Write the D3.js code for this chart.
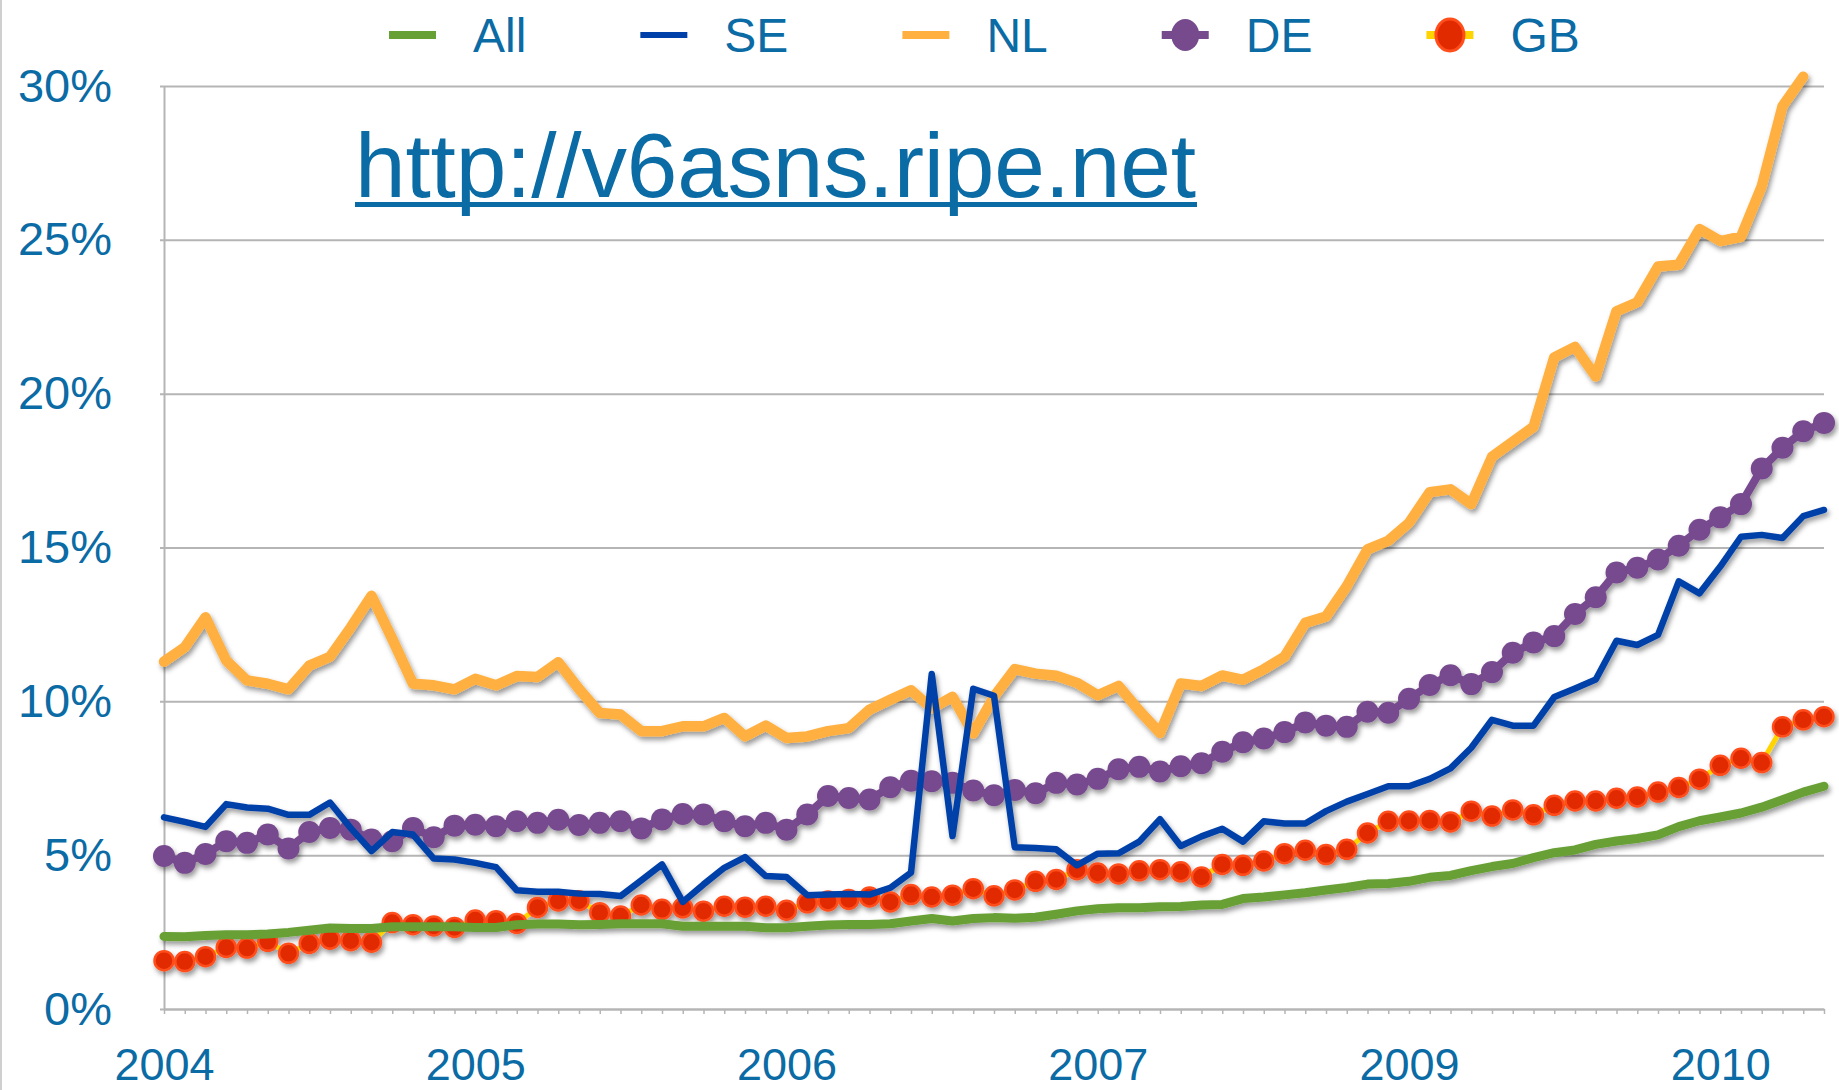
<!DOCTYPE html>
<html>
<head>
<meta charset="utf-8">
<script src="https://cdn.jsdelivr.net/npm/d3@7"></script>
<style>
body { margin: 0; background: #fff; }
svg text { font-family: "Liberation Sans", Arial, Helvetica, sans-serif; }
</style>
</head>
<body>
<svg id="chart" width="1839" height="1090"></svg>
<script>
// share of ASNs announcing IPv6 (%), one value per sample
const allData = [2.36, 2.35, 2.39, 2.41, 2.41, 2.44, 2.49, 2.56, 2.63, 2.62, 2.62, 2.67, 2.67, 2.67, 2.67, 2.65, 2.65, 2.74, 2.76, 2.76, 2.74,
    2.75, 2.77, 2.77, 2.77, 2.69, 2.69, 2.69, 2.69, 2.64, 2.64, 2.69, 2.73, 2.75, 2.75, 2.77, 2.86, 2.94, 2.86, 2.94, 2.97,
    2.95, 2.98, 3.08, 3.19, 3.26, 3.29, 3.29, 3.32, 3.33, 3.38, 3.40, 3.59, 3.64, 3.71, 3.78, 3.87, 3.95, 4.06, 4.08, 4.15, 4.28,
    4.34, 4.50, 4.63, 4.73, 4.92, 5.08, 5.17, 5.35, 5.46, 5.54, 5.66, 5.93, 6.12, 6.24, 6.37, 6.56, 6.80, 7.05, 7.24];

const seData = [6.23, 6.08, 5.92, 6.66, 6.55, 6.51, 6.31, 6.31, 6.71, 5.88, 5.13, 5.75, 5.67, 4.89, 4.86, 4.75, 4.61, 3.86, 3.81, 3.81, 3.75,
    3.74, 3.67, 4.18, 4.70, 3.48, 4.05, 4.59, 4.94, 4.32, 4.29, 3.70, 3.72, 3.74, 3.72, 3.94, 4.43, 10.89, 5.62, 10.41, 10.18,
    5.26, 5.23, 5.19, 4.67, 5.05, 5.06, 5.44, 6.17, 5.30, 5.61, 5.86, 5.44, 6.10, 6.03, 6.03, 6.43, 6.74, 6.99, 7.24, 7.24, 7.48,
    7.82, 8.49, 9.40, 9.21, 9.21, 10.14, 10.42, 10.71, 11.97, 11.83, 12.16, 13.90, 13.51, 14.38, 15.35, 15.41, 15.31, 16.02, 16.22];

const nlData = [11.29, 11.76, 12.73, 11.33, 10.68, 10.57, 10.39, 11.16, 11.45, 12.40, 13.43, 12.03, 10.57, 10.52, 10.39, 10.73, 10.52, 10.82, 10.79, 11.27, 10.40,
    9.62, 9.57, 9.03, 9.03, 9.19, 9.19, 9.46, 8.86, 9.21, 8.81, 8.86, 9.03, 9.13, 9.73, 10.05, 10.36, 9.77, 10.15, 8.96, 10.15,
    11.05, 10.90, 10.83, 10.60, 10.20, 10.50, 9.70, 8.97, 10.58, 10.50, 10.84, 10.70, 11.04, 11.45, 12.55, 12.76, 13.74, 14.94, 15.22, 15.80, 16.80,
    16.89, 16.41, 17.95, 18.44, 18.92, 21.18, 21.52, 20.56, 22.68, 22.97, 24.13, 24.19, 25.35, 24.96, 25.10, 26.74, 29.34, 30.30];

const deData = [4.97, 4.75, 5.04, 5.45, 5.40, 5.67, 5.22, 5.75, 5.88, 5.83, 5.51, 5.45, 5.88, 5.58, 5.96, 5.99, 5.94, 6.10, 6.05, 6.15, 5.98,
    6.05, 6.10, 5.87, 6.16, 6.34, 6.32, 6.10, 5.94, 6.05, 5.83, 6.32, 6.92, 6.86, 6.81, 7.21, 7.42, 7.40, 7.35, 7.10, 6.95,
    7.12, 7.01, 7.35, 7.30, 7.48, 7.79, 7.87, 7.72, 7.89, 7.99, 8.36, 8.67, 8.79, 9.00, 9.31, 9.21, 9.17, 9.66, 9.63, 10.08, 10.53,
    10.85, 10.56, 10.95, 11.58, 11.91, 12.12, 12.84, 13.38, 14.19, 14.34, 14.61, 15.06, 15.58, 15.98, 16.41, 17.57, 18.24, 18.78, 19.05];

const gbData = [1.57, 1.54, 1.70, 2.00, 1.98, 2.20, 1.81, 2.13, 2.27, 2.22, 2.17, 2.81, 2.74, 2.70, 2.65, 2.89, 2.87, 2.78, 3.30, 3.51, 3.52,
    3.13, 3.02, 3.38, 3.24, 3.29, 3.18, 3.34, 3.31, 3.34, 3.21, 3.45, 3.51, 3.56, 3.64, 3.48, 3.72, 3.64, 3.70, 3.91, 3.68,
    3.87, 4.15, 4.21, 4.53, 4.42, 4.39, 4.49, 4.53, 4.46, 4.29, 4.70, 4.67, 4.81, 5.05, 5.16, 5.02, 5.19, 5.72, 6.10, 6.11, 6.13,
    6.08, 6.43, 6.27, 6.47, 6.31, 6.62, 6.76, 6.76, 6.85, 6.89, 7.05, 7.20, 7.47, 7.92, 8.15, 8.01, 9.17, 9.40, 9.50];

const seriesNames = ["All", "SE", "NL", "DE", "GB"];
const yTicks = [0, 5, 10, 15, 20, 25, 30];
const xLabels = ["2004", "2005", "2006", "2007", "2009", "2010"];
const labelStep = 15;   // one year label every 15 samples

const W = 1839, H = 1090;
const plotLeft = 164, plotRight = 1824, plotTop = 86, plotBottom = 1009;
const textColor = "#0b6ba5";
const gridColor = "#b5b5b5";

// look of each series
const styles = {
    All: {color: "#67a035", width: 9},
    SE: {color: "#0041a9", width: 6.5},
    NL: {color: "#ffb03f", width: 10.5},
    DE: {color: "#774a8e", width: 8, dot: "#774a8e", r: 11},
    GB: {color: "#ffd400", width: 5, dot: "#e22a00", dotStroke: "#ff4d1c", r: 9.5}
};
const seriesData = {All: allData, SE: seData, NL: nlData, DE: deData, GB: gbData};

const svg = d3.select("#chart");

const defs = svg.append("defs");
defs.append("filter").attr("id", "shadow")
    .attr("filterUnits", "userSpaceOnUse")
    .attr("x", 0).attr("y", 0).attr("width", W).attr("height", H)
    .append("feDropShadow")
    .attr("dx", 2).attr("dy", 3.5).attr("stdDeviation", 2.5)
    .attr("flood-color", "#000").attr("flood-opacity", 0.4);

svg.append("rect").attr("width", W).attr("height", H).attr("fill", "#fff");
// slide edge
svg.append("line").attr("x1", 1).attr("x2", 1).attr("y1", 0).attr("y2", H)
    .attr("stroke", "#cfcfcf").attr("stroke-width", 2);

const x = d3.scaleLinear().domain([0, allData.length - 1]).range([plotLeft, plotRight]);
const y = d3.scaleLinear().domain([0, 30]).range([plotBottom, plotTop]);

/* y axis + grid */
const yAxis = svg.append("g")
    .attr("transform", `translate(${plotLeft},0)`)
    .call(d3.axisLeft(y).tickValues(yTicks).tickFormat(d => d + "%")
        .tickSizeInner(-(plotRight - plotLeft)).tickSizeOuter(0).tickPadding(52));
yAxis.attr("font-family", null).attr("font-size", 47);
yAxis.select(".domain").attr("stroke", gridColor).attr("stroke-width", 2);
yAxis.selectAll(".tick line").attr("x1", -4).attr("stroke", gridColor).attr("stroke-width", 2);
yAxis.selectAll(".tick text").attr("fill", textColor);

/* x axis, a tick per sample */
const xAxis = svg.append("g")
    .attr("transform", `translate(0,${plotBottom})`)
    .call(d3.axisBottom(x).tickValues(d3.range(allData.length))
        .tickSizeInner(5).tickSizeOuter(0).tickPadding(34)
        .tickFormat(i => i % labelStep === 0 ? xLabels[i / labelStep] : ""));
xAxis.attr("font-family", null).attr("font-size", 45);
xAxis.select(".domain").attr("stroke", gridColor).attr("stroke-width", 2);
xAxis.selectAll(".tick line").attr("stroke", gridColor).attr("stroke-width", 1.5);
xAxis.selectAll(".tick text").attr("fill", textColor);

/* series, GB at the back, All on top */
const line = d3.line()
    .defined(d => d != null)
    .x((d, i) => x(i))
    .y(d => y(d));

const plot = svg.append("g").attr("filter", "url(#shadow)");

["GB", "DE", "NL", "SE", "All"].forEach(name => {
    const st = styles[name];
    const data = seriesData[name];
    const g = plot.append("g").attr("class", "series-" + name);
    g.append("path")
        .attr("d", line(data))
        .attr("fill", "none")
        .attr("stroke", st.color)
        .attr("stroke-width", st.width)
        .attr("stroke-linejoin", "round")
        .attr("stroke-linecap", "round");
    if (st.dot) {
        g.selectAll("circle").data(data).enter().append("circle")
            .attr("cx", (d, i) => x(i))
            .attr("cy", d => y(d))
            .attr("r", st.r)
            .attr("fill", st.dot)
            .attr("stroke", st.dotStroke || "none")
            .attr("stroke-width", st.dotStroke ? 2.5 : 0);
    }
});

/* legend */
const legend = svg.append("g").attr("class", "legend");
let cursor = 389;
seriesNames.forEach(name => {
    const st = styles[name];
    const item = legend.append("g").attr("transform", `translate(${cursor},0)`);
    item.append("line")
        .attr("x1", 0).attr("x2", 47).attr("y1", 35).attr("y2", 35)
        .attr("stroke", st.color)
        .attr("stroke-width", name === "SE" ? 6 : 8);
    if (st.dot) {
        item.append("ellipse")
            .attr("cx", 23.5).attr("cy", 35).attr("rx", 14).attr("ry", 16)
            .attr("fill", st.dot)
            .attr("stroke", st.dotStroke || "none")
            .attr("stroke-width", st.dotStroke ? 3 : 0);
    }
    const t = item.append("text")
        .attr("x", 84).attr("y", 52)
        .attr("font-size", 48)
        .attr("fill", textColor)
        .text(name);
    cursor += 84 + t.node().getComputedTextLength() + 114;
});

/* source link */
svg.append("text")
    .attr("x", 355).attr("y", 197)
    .attr("font-size", 91)
    .attr("textLength", 841)
    .attr("fill", textColor)
    .text("http://v6asns.ripe.net");
svg.append("line")
    .attr("x1", 355).attr("x2", 1197).attr("y1", 204.5).attr("y2", 204.5)
    .attr("stroke", textColor).attr("stroke-width", 5);
</script>
</body>
</html>
